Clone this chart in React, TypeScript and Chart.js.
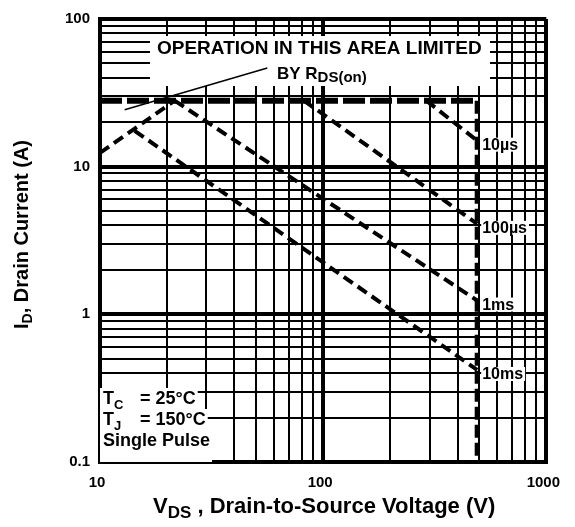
import React, { useEffect, useRef } from "react";
import { Chart, registerables } from "chart.js";
Chart.register(...registerables);

// ---- axes / grid ----
const xGridValues = [10, 20, 30, 40, 50, 60, 70, 80, 90, 100, 200, 300, 400, 500, 600, 700, 800, 900, 1000];
const yGridValues = [0.1, 0.2, 0.3, 0.4, 0.5, 0.6, 0.7, 0.8, 0.9, 1, 2, 3, 4, 5, 6, 7, 8, 9, 10, 20, 30, 40, 50, 60, 70, 80, 90, 100];
const xTickValues = [10, 100, 1000];
const xTickLabels = ["10", "100", "1000"];
const yTickValues = [0.1, 1, 10, 100];
const yTickLabels = ["0.1", "1", "10", "100"];

// ---- curves (V, A) ----
const rdsV = [10, 21.6];
const rdsI = [12.4, 28];
const limitV = [10, 490];
const limitI = [28, 28];
const edgeV = [490, 490];
const edgeI = [28, 0.1];
const us10V = [290, 490];
const us10I = [28, 15];
const us100V = [82, 490];
const us100I = [28, 4.1];
const ms1V = [21.6, 490];
const ms1I = [28, 1.24];
const ms10V = [14.3, 490];
const ms10I = [17.5, 0.42];
const pointerV = [12.9, 56.2];
const pointerI = [24.3, 46.6];
const pulseLabels = ["10\u00b5s", "100\u00b5s", "1ms", "10ms"];

const FONT = '"Liberation Sans", Arial, Helvetica, sans-serif';
const bf = (s: number) => `bold ${s}px ${FONT}`;

const pts = (xs: number[], ys: number[]) => xs.map((x, i) => ({ x, y: ys[i] }));
const isMajor = (v: number) => {
  const l = Math.log10(v);
  return Math.abs(l - Math.round(l)) < 1e-6;
};
const near = (a: number, b: number) => Math.abs(a - b) < 1e-6 * Math.max(a, b);

type Part = { t: string; s: number; dy?: number };
function partsWidth(ctx: CanvasRenderingContext2D, parts: Part[]) {
  let w = 0;
  for (const p of parts) {
    ctx.font = bf(p.s);
    w += ctx.measureText(p.t).width;
  }
  return w;
}
function drawParts(ctx: CanvasRenderingContext2D, parts: Part[], x: number, y: number) {
  let cx = x;
  for (const p of parts) {
    ctx.font = bf(p.s);
    ctx.fillText(p.t, cx, y + (p.dy || 0));
    cx += ctx.measureText(p.t).width;
  }
  return cx;
}

const tcLines: { first: Part[]; second?: string }[] = [
  { first: [{ t: "T", s: 18 }, { t: "C", s: 13, dy: 5 }], second: "= 25\u00b0C" },
  { first: [{ t: "T", s: 18 }, { t: "J", s: 13, dy: 5 }], second: "= 150\u00b0C" },
  { first: [{ t: "Single Pulse", s: 18 }] },
];

const annotPlugin = {
  id: "annot",
  beforeDatasetsDraw(chart: any) {
    const { ctx, chartArea: a } = chart;
    ctx.save();
    ctx.fillStyle = "#fff";
    // box behind "OPERATION IN THIS AREA LIMITED BY RDS(on)"
    ctx.fillRect(a.left + 50, a.top + 17, 340, 50);
    // boxes behind TC / TJ text
    tcLines.forEach((ln, i) => {
      const base = a.bottom - 58 + i * 21;
      let right = a.left + 3 + partsWidth(ctx, ln.first);
      if (ln.second) {
        ctx.font = bf(18);
        right = a.left + 40 + ctx.measureText(ln.second).width;
      }
      const top = base - 16;
      const bottom = i === tcLines.length - 1 ? a.bottom : base + 6;
      ctx.fillRect(a.left, top, right + 2 - a.left, bottom - top);
    });
    ctx.restore();
  },
  afterDatasetsDraw(chart: any) {
    const { ctx, chartArea: a, scales } = chart;
    ctx.save();
    ctx.fillStyle = "#000";
    ctx.textAlign = "left";
    ctx.textBaseline = "alphabetic";
    ctx.font = bf(19);
    ctx.fillText("OPERATION IN THIS AREA LIMITED", a.left + 57, a.top + 35);
    drawParts(ctx, [{ t: "BY R", s: 17 }, { t: "DS(on)", s: 15, dy: 3 }], a.left + 177, a.top + 60);

    tcLines.forEach((ln, i) => {
      const base = a.bottom - 58 + i * 21;
      drawParts(ctx, ln.first, a.left + 3, base);
      if (ln.second) {
        ctx.font = bf(18);
        ctx.fillText(ln.second, a.left + 40, base);
      }
    });

    // pulse labels at the end of each pulse line
    const ends = [
      [us10V, us10I],
      [us100V, us100I],
      [ms1V, ms1I],
      [ms10V, ms10I],
    ];
    ctx.font = bf(16);
    ctx.textBaseline = "middle";
    ends.forEach(([xs, ys], i) => {
      const px = scales.x.getPixelForValue(xs[xs.length - 1]) + 5;
      const py = scales.y.getPixelForValue(ys[ys.length - 1]) + 4;
      const w = ctx.measureText(pulseLabels[i]).width;
      ctx.fillStyle = "#fff";
      ctx.fillRect(px - 1, py - 7, w + 3, 14);
      ctx.fillStyle = "#000";
      ctx.fillText(pulseLabels[i], px, py + 1);
    });
    ctx.restore();
  },
  afterDraw(chart: any) {
    const { ctx, chartArea: a } = chart;
    ctx.save();
    ctx.fillStyle = "#000";
    ctx.textAlign = "left";
    ctx.textBaseline = "alphabetic";
    // y title
    const yParts: Part[] = [
      { t: "I", s: 20 },
      { t: "D", s: 14, dy: 4 },
      { t: ", Drain Current (A)", s: 20 },
    ];
    ctx.save();
    ctx.translate(28, (a.top + a.bottom) / 2 - 6);
    ctx.rotate(-Math.PI / 2);
    drawParts(ctx, yParts, -partsWidth(ctx, yParts) / 2, 0);
    ctx.restore();
    // x title
    const xParts: Part[] = [
      { t: "V", s: 22 },
      { t: "DS", s: 17, dy: 5 },
      { t: " , Drain-to-Source Voltage (V)", s: 22 },
    ];
    drawParts(ctx, xParts, 153, a.bottom + 51);
    ctx.restore();
  },
};

export default function App() {
  const ref = useRef<HTMLCanvasElement | null>(null);
  useEffect(() => {
    if (!ref.current) return;
    const dash = (data: any, width: number, d: number[] | undefined) => ({
      data,
      showLine: true,
      borderColor: "#000",
      backgroundColor: "#000",
      borderWidth: width,
      borderDash: d || [],
      pointRadius: 0,
      fill: false,
      tension: 0,
    });
    const gridWidth = (c: any) => (c.tick && isMajor(c.tick.value) ? 4 : 2);
    const chart = new Chart(ref.current, {
      type: "scatter",
      data: {
        datasets: [
          dash(pts(limitV, limitI), 6, [22, 5]),
          dash(pts(edgeV, edgeI), 5, [13, 5]),
          dash(pts(rdsV, rdsI), 4, [11, 6]),
          dash(pts(us10V, us10I), 4, [11, 6]),
          dash(pts(us100V, us100I), 4, [11, 6]),
          dash(pts(ms1V, ms1I), 4, [11, 6]),
          dash(pts(ms10V, ms10I), 4, [11, 6]),
          dash(pts(pointerV, pointerI), 1.5, undefined),
        ] as any,
      },
      options: {
        animation: false,
        responsive: false,
        devicePixelRatio: 1,
        layout: { padding: { left: 0, top: 18, right: 27, bottom: 0 } },
        plugins: { legend: { display: false }, tooltip: { enabled: false } },
        scales: {
          x: {
            type: "logarithmic",
            min: 10,
            max: 1000,
            afterBuildTicks: (axis: any) => {
              axis.ticks = xGridValues.map((v) => ({ value: v }));
            },
            afterFit: (axis: any) => {
              axis.height = 65;
            },
            ticks: {
              autoSkip: false,
              maxRotation: 0,
              padding: 12,
              labelOffset: -3,
              color: "#000",
              font: { family: FONT, size: 15, weight: "bold" },
              callback: (v: any) => {
                const i = xTickValues.findIndex((t) => near(t, Number(v)));
                return i >= 0 ? xTickLabels[i] : "";
              },
            },
            grid: { color: "#000", lineWidth: gridWidth, drawTicks: false },
            border: { display: true, color: "#000", width: 4 },
          },
          y: {
            type: "logarithmic",
            min: 0.1,
            max: 100,
            afterBuildTicks: (axis: any) => {
              axis.ticks = yGridValues.map((v) => ({ value: v }));
            },
            afterFit: (axis: any) => {
              axis.width = 100;
            },
            ticks: {
              autoSkip: false,
              padding: 10,
              color: "#000",
              font: { family: FONT, size: 15, weight: "bold" },
              callback: (v: any) => {
                const i = yTickValues.findIndex((t) => near(t, Number(v)));
                return i >= 0 ? yTickLabels[i] : "";
              },
            },
            grid: { color: "#000", lineWidth: gridWidth, drawTicks: false },
            border: { display: true, color: "#000", width: 4 },
          },
        },
      } as any,
      plugins: [annotPlugin as any],
    });
    return () => chart.destroy();
  }, []);
  return (
    <div style={{ position: "absolute", left: 0, top: 0, width: 575, height: 527, background: "#fff" }}>
      <canvas ref={ref} width={575} height={527} style={{ width: 575, height: 527, display: "block" }} />
    </div>
  );
}
